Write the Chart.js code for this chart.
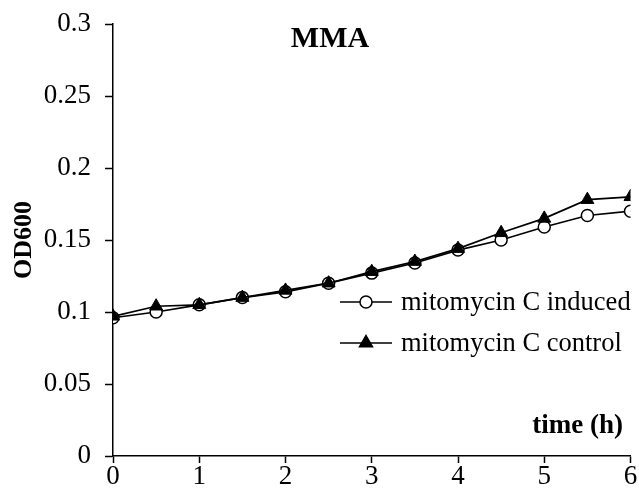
<!DOCTYPE html>
<html><head><meta charset="utf-8">
<script src="https://cdn.jsdelivr.net/npm/chart.js@4/dist/chart.umd.min.js"></script>
<style>html,body{margin:0;padding:0;background:#fff}#wrap{width:639px;height:490px;position:relative}</style>
</head><body><div id="wrap"><canvas id="c" width="639" height="490"></canvas></div>
<script>
const timeHours = [0, 0.5, 1, 1.5, 2, 2.5, 3, 3.5, 4, 4.5, 5, 5.5, 6];
const inducedOD = [0.096, 0.100, 0.105, 0.110, 0.114, 0.120, 0.127, 0.134, 0.143, 0.150, 0.159, 0.167, 0.170];
const controlOD = [0.097, 0.104, 0.105, 0.110, 0.115, 0.120, 0.128, 0.135, 0.144, 0.155, 0.165, 0.178, 0.180];
const yTickLabels = ['0', '0.05', '0.1', '0.15', '0.2', '0.25', '0.3'];
const xTickLabels = ['0', '1', '2', '3', '4', '5', '6'];
const seriesNames = ['mitomycin C induced', 'mitomycin C control'];
const chartTitle = 'MMA';
const xTitle = 'time (h)';
const yTitle = 'OD600';

const serif = "'Liberation Serif', 'DejaVu Serif', serif";

const overlay = {
  id: 'overlay',
  afterDraw(chart) {
    const ctx = chart.ctx;
    ctx.save();
    ctx.fillStyle = '#000';
    ctx.font = "bold 30px " + serif;
    ctx.textAlign = 'center';
    ctx.textBaseline = 'alphabetic';
    ctx.fillText(chartTitle, 330, 47);
    ctx.font = "bold 27px " + serif;
    ctx.textAlign = 'right';
    ctx.fillText(xTitle, 623, 433);
    // legend
    const rows = [302, 343];
    chart.data.datasets.forEach((ds, i) => {
      const y = rows[i];
      ctx.strokeStyle = '#000';
      ctx.lineWidth = 1.7;
      ctx.beginPath(); ctx.moveTo(340, y); ctx.lineTo(392, y); ctx.stroke();
      ctx.fillStyle = ds.pointBackgroundColor;
      ctx.lineWidth = 1.5;
      ctx.beginPath();
      if (ds.pointStyle === 'circle') {
        ctx.arc(366, y, ds.pointRadius, 0, Math.PI * 2);
      } else {
        const r = ds.pointRadius;
        ctx.moveTo(366, y - r);
        ctx.lineTo(366 + r * 0.866, y + r * 0.5);
        ctx.lineTo(366 - r * 0.866, y + r * 0.5);
        ctx.closePath();
      }
      ctx.fill(); ctx.stroke();
      ctx.fillStyle = '#000';
      ctx.font = "26.5px " + serif;
      ctx.textAlign = 'left';
      ctx.textBaseline = 'middle';
      ctx.fillText(ds.label, 401, y + 1);
    });
    ctx.restore();
  }
};

new Chart(document.getElementById('c'), {
  type: 'line',
  data: {
    datasets: [
      { label: seriesNames[0], data: timeHours.map((t, i) => ({x: t, y: inducedOD[i]})),
        borderColor: '#000', borderWidth: 1.7, pointStyle: 'circle', pointRadius: 6,
        pointBackgroundColor: '#fff', pointBorderColor: '#000', pointBorderWidth: 1.5, tension: 0, order: 1 },
      { label: seriesNames[1], data: timeHours.map((t, i) => ({x: t, y: controlOD[i]})),
        borderColor: '#000', borderWidth: 1.7, pointStyle: 'triangle', pointRadius: 7.5,
        pointBackgroundColor: '#000', pointBorderColor: '#000', pointBorderWidth: 1, tension: 0, order: 0 }
    ]
  },
  options: {
    responsive: false, animation: false,
    layout: { padding: { top: 24, right: 8, left: 0, bottom: 0 } },
    plugins: { legend: { display: false }, tooltip: { enabled: false }, title: { display: false } },
    scales: {
      x: {
        type: 'linear', min: 0, max: 6,
        afterFit(s) { s.height = 34; s.paddingLeft = 0; s.paddingRight = 0; },
        ticks: { stepSize: 1, color: '#000', font: { family: serif, size: 27 }, padding: -2,
                 maxRotation: 0, callback: (v, i) => xTickLabels[i] },
        grid: { drawOnChartArea: false, drawTicks: true, tickLength: 7, color: '#000', tickWidth: 1.5 },
        border: { color: '#000', width: 1.5 }
      },
      y: {
        min: 0, max: 0.3,
        afterFit(s) { s.width = 113; s.paddingTop = 0; s.paddingBottom = 0; },
        ticks: { stepSize: 0.05, color: '#000', font: { family: serif, size: 27 }, padding: 14,
                 callback: (v, i) => yTickLabels[i] },
        grid: { drawOnChartArea: false, drawTicks: true, tickLength: 8, color: '#000', tickWidth: 1.5 },
        border: { color: '#000', width: 1.5 },
        title: { display: true, text: yTitle, color: '#000', font: { family: serif, size: 26, weight: 'bold' }, padding: { top: 9, bottom: 0 } }
      }
    }
  },
  plugins: [overlay]
});
</script></body></html>
